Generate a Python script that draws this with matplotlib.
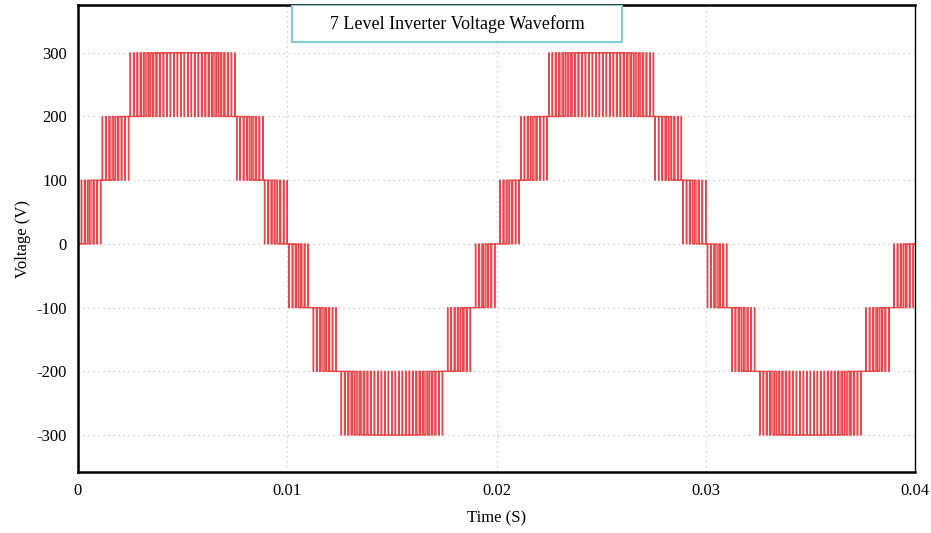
import numpy as np
import matplotlib
matplotlib.use("Agg")
import matplotlib.pyplot as plt
from matplotlib.patches import Rectangle

# Parametros del inversor
niveles = [-300, -200, -100, 0, 100, 200, 300]   # niveles de tension (V)
paso_nivel = 100          # V entre niveles
amplitud_ref = 290        # amplitud de la moduladora (V)
f_fundamental = 50        # Hz
f_portadora = 6000        # Hz
t_final = 0.04            # s

yticks = [-300, -200, -100, 0, 100, 200, 300]
xticks = [0, 0.01, 0.02, 0.03, 0.04]
xtick_labels = ["0", "0.01", "0.02", "0.03", "0.04"]

# Modulacion PWM con portadoras desplazadas en nivel
t = np.linspace(0, t_final, 200001)
ref = amplitud_ref * np.sin(2 * np.pi * f_fundamental * t)
fase = (t * f_portadora) % 1.0
tri = 1 - 2 * np.abs(fase - 0.5)          # triangular 0..1
v = np.full_like(t, niveles[0], dtype=float)
for base in niveles[:-1]:
    portadora = base + tri * paso_nivel
    v += paso_nivel * (ref > portadora)

plt.rcParams["font.family"] = ["Liberation Serif", "DejaVu Serif"]
plt.rcParams["path.simplify"] = False
plt.rcParams["axes.unicode_minus"] = False

fig = plt.figure(figsize=(9.31, 5.33), dpi=100)
ax = fig.add_axes([78 / 931, 61 / 533, 837 / 931, 467 / 533])

ax.plot(t, v, color="#e31e24", linewidth=1.0, drawstyle="steps-post", alpha=0.82)

ax.set_xlim(0, t_final)
ax.set_ylim(-358, 375)
ax.set_xticks(xticks)
ax.set_xticklabels(xtick_labels)
ax.set_yticks(yticks)
ax.tick_params(length=0, labelsize=12, pad=8)
ax.grid(True, linestyle=(0, (1, 3)), color="#c4c4c4", linewidth=0.9)

for lado in ["left", "bottom", "top"]:
    ax.spines[lado].set_linewidth(1.8)
ax.spines["right"].set_linewidth(1.0)

ax.set_xlabel("Time (S)", fontsize=12, labelpad=8)
ax.set_ylabel("Voltage (V)", fontsize=12, labelpad=4)

# Recuadro del titulo
caja = Rectangle((0.2557, 0.9208), 330 / 837, 1 - 0.9208, transform=ax.transAxes,
                 fc="white", ec="#7fcfd2", lw=1.5, zorder=5)
ax.add_patch(caja)
ax.text(0.4528, 0.959, "7 Level Inverter Voltage Waveform",
        transform=ax.transAxes, fontsize=13, ha="center", va="center", zorder=6)

fig.savefig("out.png", dpi=100)
plt.close(fig)
